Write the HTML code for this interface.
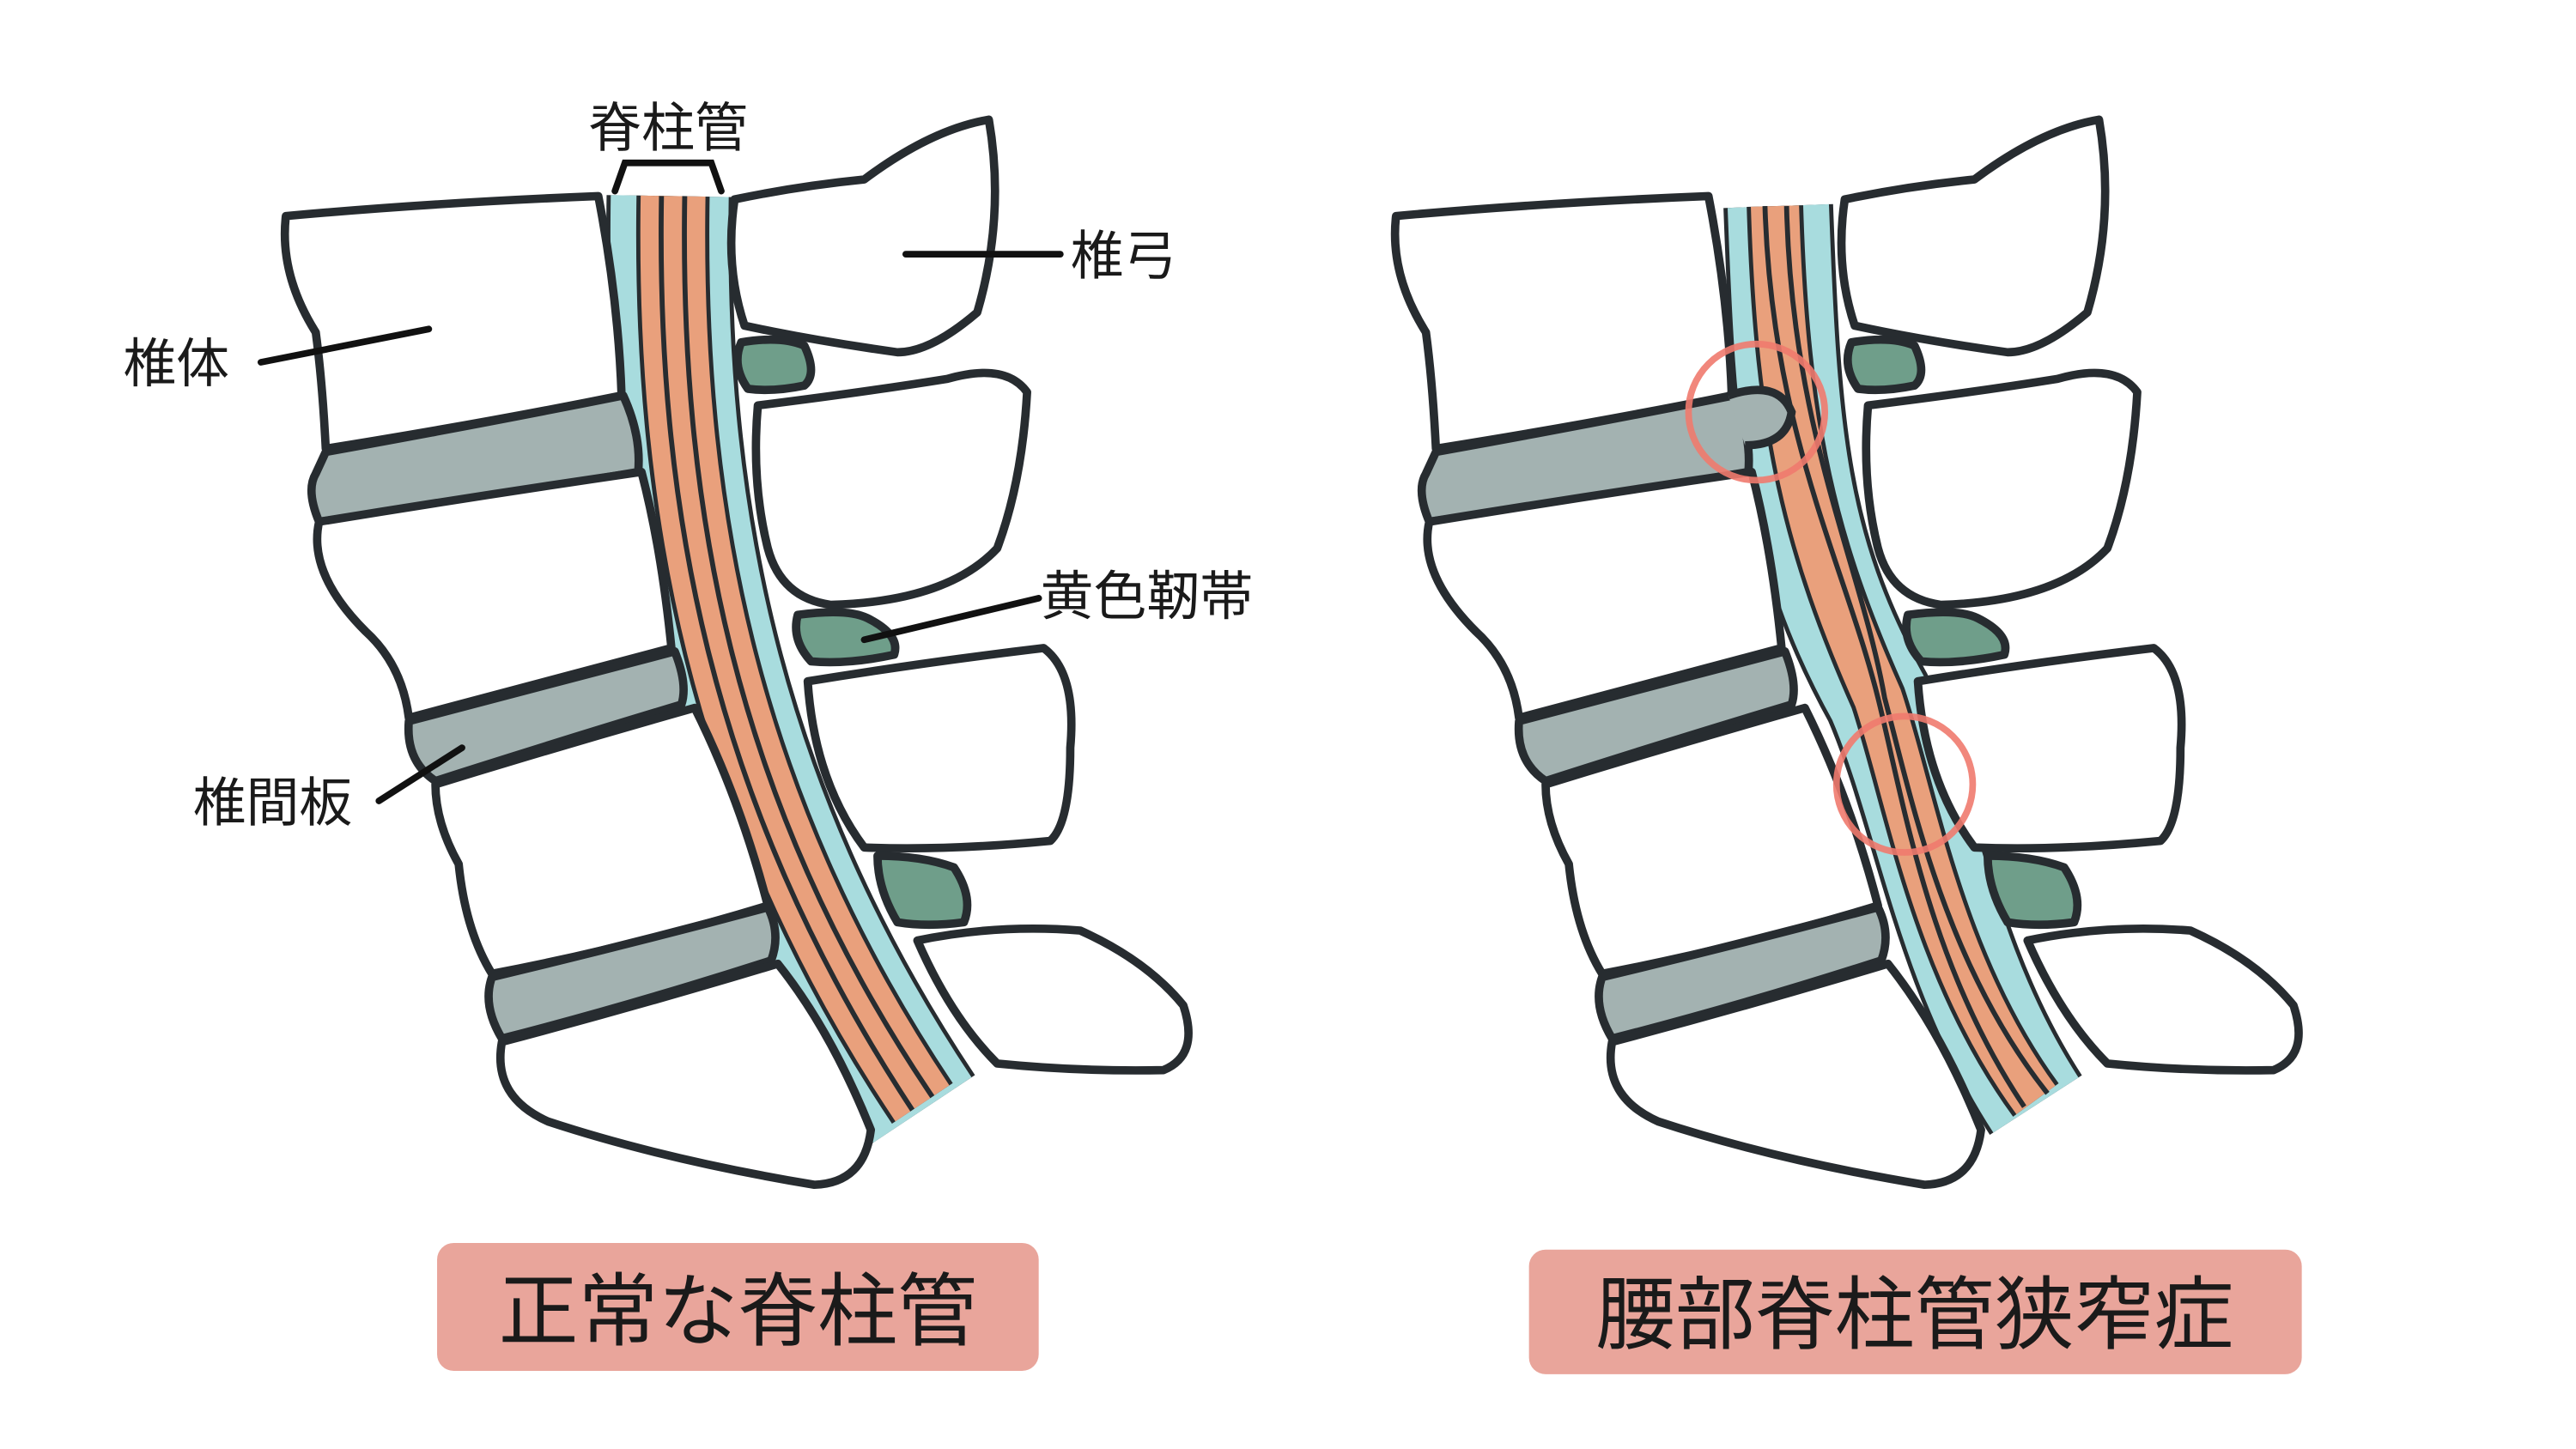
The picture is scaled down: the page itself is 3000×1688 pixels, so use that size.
<!DOCTYPE html>
<html><head><meta charset="utf-8"><style>
html,body{margin:0;padding:0;background:#fff;}
svg{display:block}
text{font-family:"Liberation Sans","Noto Sans CJK JP",sans-serif;fill:#1a1a1a}
</style></head><body>
<svg width="3000" height="1688" viewBox="0 0 1550 872" preserveAspectRatio="none" xmlns="http://www.w3.org/2000/svg">
<rect width="1550" height="872" fill="#fff"/>
<defs>
<g id="bodies" stroke="#272c30" stroke-width="5" stroke-linejoin="round">
  <path d="M172,130 Q260,122 360,118 Q372,180 374,238 Q290,255 196,270 Q194,230 190,200 Q168,165 172,130Z" fill="#fff"/>
  <path d="M196,272 Q290,255 375,238 Q386,262 384,284 Q290,300 192,314 Q184,295 190,285Z" fill="#a3b2b1"/>
  <path d="M192,314 Q290,298 386,284 Q398,330 404,390 Q330,410 246,432 Q242,400 220,380 Q185,345 192,314Z" fill="#fff"/>
  <path d="M246,434 Q330,412 406,392 Q414,412 410,424 Q340,445 262,470 Q244,458 246,434Z" fill="#a3b2b1"/>
  <path d="M262,472 Q340,448 418,426 Q445,480 462,545 Q380,570 296,586 Q280,560 276,520 Q262,495 262,472Z" fill="#fff"/>
  <path d="M296,588 Q380,568 462,546 Q470,562 464,578 Q380,605 302,625 Q290,605 296,588Z" fill="#a3b2b1"/>
  <path d="M302,627 Q385,605 468,580 Q500,620 524,680 Q520,712 490,713 Q400,698 330,675 Q296,660 302,627Z" fill="#fff"/>
</g>
<g id="laminae" stroke="#272c30" stroke-width="5" stroke-linejoin="round">
  <path d="M442,120 Q480,112 520,108 Q560,78 595,72 Q605,130 588,188 Q560,212 540,212 Q490,205 448,196 Q436,160 442,120Z" fill="#fff"/>
  <path d="M446,206 Q470,202 484,208 Q492,225 484,232 Q465,236 450,234 Q440,220 446,206Z" fill="#6f9e8a"/>
  <path d="M456,244 Q520,236 570,228 Q605,218 618,236 Q615,290 600,330 Q570,362 500,364 Q470,360 462,330 Q452,290 456,244Z" fill="#fff"/>
  <path d="M480,370 Q510,366 522,372 Q542,382 538,394 Q510,400 488,398 Q476,385 480,370Z" fill="#6f9e8a"/>
  <path d="M486,410 Q560,398 628,390 Q648,405 644,450 Q644,495 632,506 Q570,512 520,510 Q490,470 486,410Z" fill="#fff"/>
  <path d="M528,515 Q555,515 574,522 Q586,540 580,555 Q558,558 540,555 Q528,535 528,515Z" fill="#6f9e8a"/>
  <path d="M552,566 Q600,556 650,560 Q690,578 712,605 Q722,635 700,644 Q650,645 600,640 Q572,612 552,566Z" fill="#fff"/>
</g>
</defs>

<g fill="none" stroke-linecap="butt">
  <path d="M403,118 C400,300 430,480 555,668" stroke="#272c30" stroke-width="76"/>
  <path d="M403,118 C400,300 430,480 555,668" stroke="#a8dcde" stroke-width="71"/>
  <path d="M405,118 C402,300 432,480 555,664" stroke="#272c30" stroke-width="44"/>
  <path d="M405,118 C402,300 432,480 555,664" stroke="#e9a07c" stroke-width="39"/>
  <path d="M398,118 C395,300 425,480 549,668" stroke="#272c30" stroke-width="3"/>
  <path d="M412,118 C409,300 439,480 561,660" stroke="#272c30" stroke-width="3"/>
</g>
<use href="#bodies"/>
<use href="#laminae"/>

<g fill="none">
  <path d="M1070,124 C1075,260 1080,330 1130,420 C1160,490 1170,580 1225,665" stroke="#272c30" stroke-width="66"/>
  <path d="M1070,124 C1075,260 1080,330 1130,420 C1160,490 1170,580 1225,665" stroke="#a8dcde" stroke-width="61"/>
  <path d="M1068,124 C1072,260 1090,330 1130,420 C1150,480 1165,580 1225,662" stroke="#272c30" stroke-width="34"/>
  <path d="M1068,124 C1072,260 1090,330 1130,420 C1150,480 1165,580 1225,662" stroke="#e9a07c" stroke-width="29"/>
  <path d="M1062,124 C1066,260 1110,340 1130,420 C1145,480 1160,580 1218,666" stroke="#272c30" stroke-width="3"/>
  <path d="M1075,124 C1078,260 1120,340 1134,420 C1150,480 1170,580 1232,658" stroke="#272c30" stroke-width="3"/>
</g>
<g transform="translate(668,0)"><use href="#bodies"/><use href="#laminae"/></g>
<path d="M1040,238 Q1070,228 1078,248 Q1075,268 1050,268" fill="#a3b2b1" stroke="#272c30" stroke-width="5"/>
<circle cx="1057" cy="248" r="41" fill="none" stroke="#f07a6e" stroke-width="4" opacity="0.9"/>
<circle cx="1146" cy="472" r="41" fill="none" stroke="#f07a6e" stroke-width="4" opacity="0.9"/>

<g stroke="#111" stroke-width="4" fill="none" stroke-linecap="round">
  <path d="M370,115 L376,98 L428,98 L434,115"/>
  <line x1="545" y1="153" x2="638" y2="153"/>
  <line x1="157" y1="218" x2="258" y2="198"/>
  <line x1="520" y1="385" x2="625" y2="360"/>
  <line x1="228" y1="482" x2="278" y2="450"/>
</g>
<text x="402" y="88" font-size="32" text-anchor="middle">脊柱管</text>
<text x="644" y="165" font-size="32">椎弓</text>
<text x="74" y="230" font-size="32">椎体</text>
<text x="626" y="370" font-size="32">黄色靭帯</text>
<text x="116" y="494" font-size="32">椎間板</text>

<rect x="263" y="748" width="362" height="77" rx="10" fill="#e9a59b"/>
<text x="444" y="806" font-size="48" text-anchor="middle">正常な脊柱管</text>
<rect x="920" y="752" width="465" height="75" rx="10" fill="#e9a59b"/>
<text x="1152" y="808" font-size="48" text-anchor="middle">腰部脊柱管狭窄症</text>
</svg>
</body></html>
